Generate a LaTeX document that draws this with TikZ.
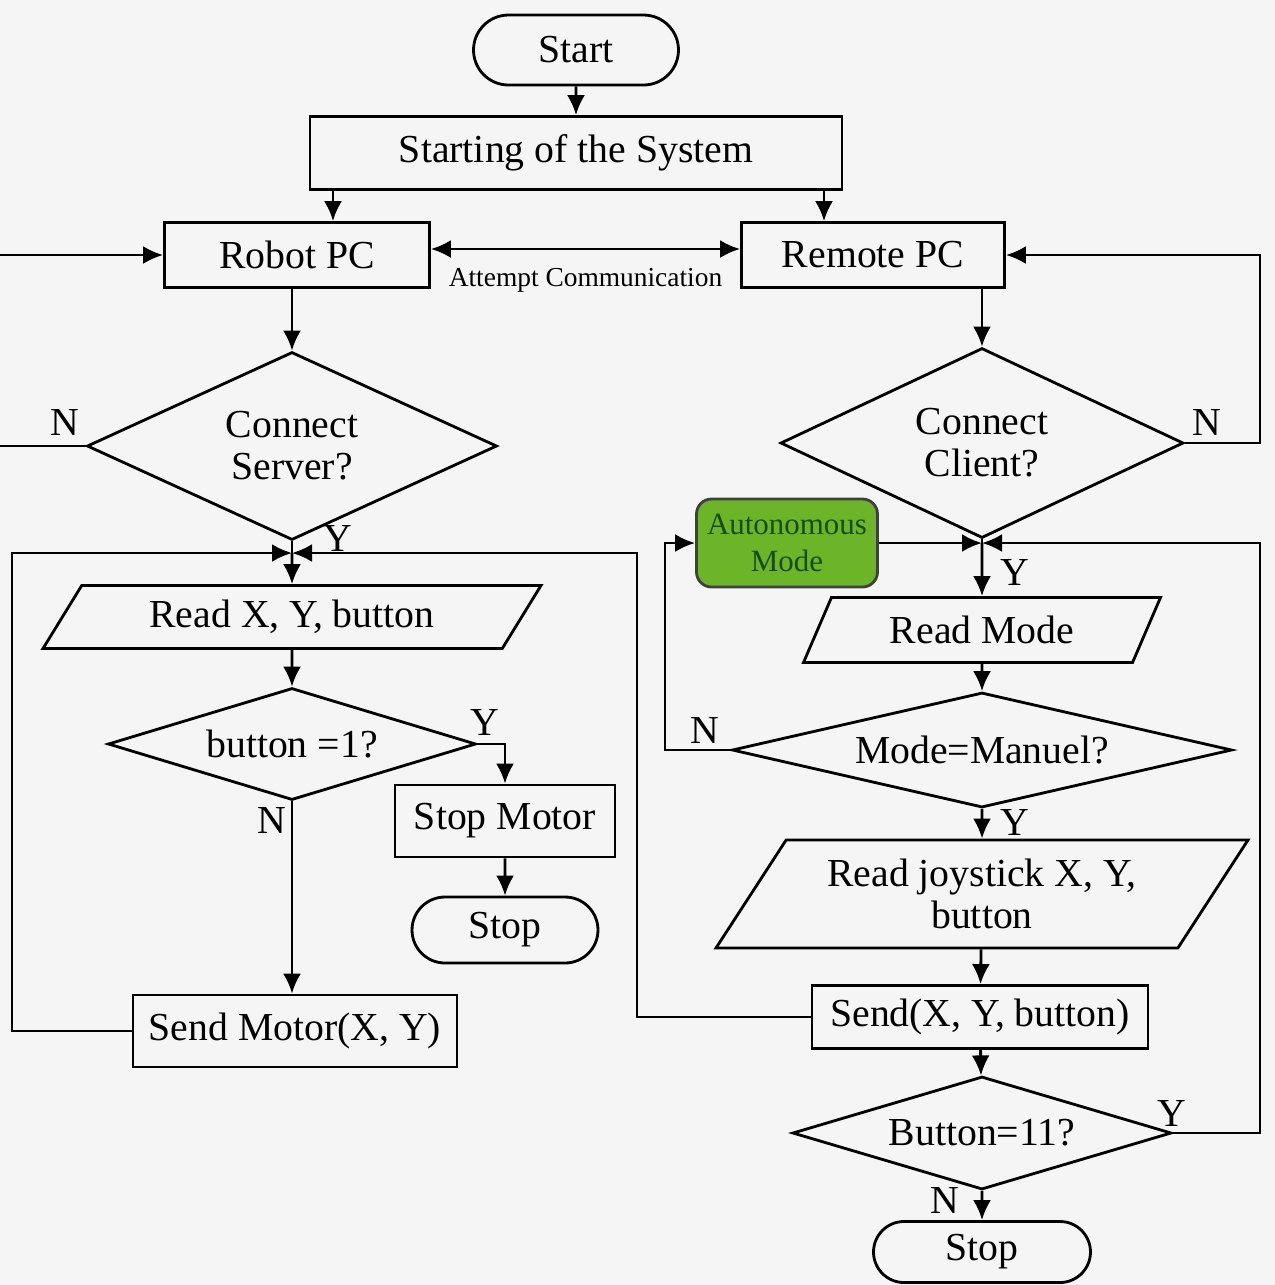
\documentclass[tikz,border=0pt]{standalone}
\usepackage{fontspec}
\setmainfont{Liberation Serif}
\usetikzlibrary{arrows.meta,positioning,shapes.geometric,shapes.misc}
\definecolor{paper}{RGB}{245,245,245}
\definecolor{autofill}{RGB}{108,180,40}
\definecolor{autotext}{RGB}{24,76,20}

\begin{document}
\begin{tikzpicture}[
  x=0.1mm, y=-0.1mm,
  font=\fontsize{11.3}{12}\selectfont,
  line width=0.8pt,
  box/.style={draw, rectangle, align=center, inner sep=1pt},
  term/.style={draw, rounded rectangle, align=center, inner sep=1pt},
  io/.style={draw, trapezium, trapezium left angle=45, trapezium right angle=135,
    trapezium stretches body, align=center, inner sep=0pt},
  decision/.style={draw, diamond, align=center, inner sep=0pt},
  automode/.style={draw=black!75, fill=autofill, rounded corners=1.5mm, align=center,
    text=autotext, inner sep=0pt, font=\fontsize{8.8}{10.5}\selectfont},
  lbl/.style={inner sep=0pt},
  >={Latex[length=2mm, width=1.8mm]}
]
  \fill[paper] (0,0) rectangle (1275,1285);
  \useasboundingbox (0,0) rectangle (1275,1285);

  % top
  \node[term, minimum width=21.2mm, minimum height=7mm] (start) at (576,50) {Start};
  \node[box, minimum width=53.2mm, minimum height=7.3mm] (system) at (576,153) {Starting of the System};
  \node[box, minimum width=26.5mm, minimum height=6.5mm] (robot) at (297,255) {Robot PC};
  \node[box, minimum width=26.3mm, minimum height=6.5mm] (remote) at (873,255) {Remote PC};

  % robot side
  \node[decision, aspect=2.18, minimum width=41mm, minimum height=18.8mm] (server) at (292,446) {Connect\\Server?};
  \node[io, trapezium left angle=41, trapezium right angle=139, minimum width=49.8mm, minimum height=6.3mm] (readxy) at (292,617) {Read X, Y, button};
  \node[decision, aspect=3.3, minimum width=36.8mm, minimum height=11.2mm] (btn) at (292,744) {button =1?};
  \node[box, minimum width=22mm, minimum height=7.2mm] (stopm) at (505,821) {Stop Motor};
  \node[term, minimum width=19.3mm, minimum height=6.6mm] (stopa) at (505,930) {Stop};
  \node[box, minimum width=32.4mm, minimum height=7.2mm] (sendm) at (295,1031) {Send Motor(X, Y)};

  % remote side
  \node[decision, aspect=2.1, minimum width=40.3mm, minimum height=19mm] (client) at (982,443) {Connect\\Client?};
  \node[automode, minimum width=18.1mm, minimum height=8.8mm] (autonode) at (787,543) {Autonomous\\Mode};
  \node[io, minimum width=35.7mm, minimum height=6.5mm] (readmode) at (982,630) {Read Mode};
  \node[decision, aspect=4.35, minimum width=50mm, minimum height=11.5mm] (mode) at (982,750) {Mode=Manuel?};
  \node[io, inner xsep=-1mm, minimum width=53.2mm, minimum height=10.8mm] (joy) at (982,894) {Read joystick X, Y,\\button};
  \node[box, minimum width=33.6mm, minimum height=6.3mm] (send) at (980,1017) {Send(X, Y, button)};
  \node[decision, aspect=3.35, minimum width=37.9mm, minimum height=11.3mm] (b11) at (982,1133) {Button=11?};
  \node[term, minimum width=22.4mm, minimum height=6.1mm] (stopb) at (982,1252) {Stop};

  % corner points of the loops
  \coordinate (farl) at (-6,0);
  \coordinate (lb) at (12,0);
  \coordinate (mx) at (637,0);
  \coordinate (ax) at (665,0);
  \coordinate (rx) at (1260,0);
  \coordinate (jl) at (292,553);
  \coordinate (jr) at (982,543);

  % Y / N labels
  \node[lbl] (nsrv) at (65,422) {N};
  \node[lbl] (ysrv) at (338,538) {Y};
  \node[lbl] (ybtn) at (485,722) {Y};
  \node[lbl] (nbtn) at (272,820) {N};
  \node[lbl] (ncli) at (1207,422) {N};
  \node[lbl] (ycli) at (1015,572) {Y};
  \node[lbl] (nmode) at (705,730) {N};
  \node[lbl] (ymode) at (1015,822) {Y};
  \node[lbl] (yb11) at (1172,1113) {Y};
  \node[lbl] (nb11) at (945,1200) {N};

  \draw[->] (start) -- (system);
  \draw[->] ([xshift=3.6mm]robot.north |- system.south) -- ([xshift=3.6mm]robot.north);
  \draw[->] ([xshift=-4.9mm]remote.north |- system.south) -- ([xshift=-4.9mm]remote.north);
  \draw[<->] ([yshift=0.6mm]robot.east) -- ([yshift=0.6mm]remote.west)
    node[midway, below=0.6mm, font=\fontsize{7.8}{9}\selectfont] (attempt) {Attempt Communication};

  \draw[->] (robot.south -| server.north) -- (server.north);
  \draw[->] (server.west) -- (server.west -| farl) |- (robot.west);
  \draw (server.south) -- (jl);
  \draw[->] (jl) -- (readxy.north);
  \draw[->] (sendm.west) -- (sendm.west -| lb) |- (jl);
  \draw[->] (send.west) -- (send.west -| mx) |- (jl);
  \draw[->] (readxy) -- (btn);
  \draw[->] (btn.east) -| (stopm.north);
  \draw[->] (stopm) -- (stopa);
  \draw[->] (btn.south) -- (btn.south |- sendm.north);

  \draw[->] (remote.south -| client.north) -- (client.north);
  \draw[->] (client.east) -- (client.east -| rx) |- (remote.east);
  \draw (client.south) -- (jr);
  \draw[->] (jr) -- (readmode.north);
  \draw[->] (autonode) -- (jr);
  \draw[->] (b11.east) -- (b11.east -| rx) |- (jr);
  \draw[->] (readmode) -- (mode);
  \draw[->] (mode.west) -- (mode.west -| ax) |- (autonode.west);
  \draw[->] (mode) -- (joy);
  \draw[->] (joy) -- (send);
  \draw[->] (send) -- (b11);
  \draw[->] (b11) -- (stopb);
\end{tikzpicture}
\end{document}
